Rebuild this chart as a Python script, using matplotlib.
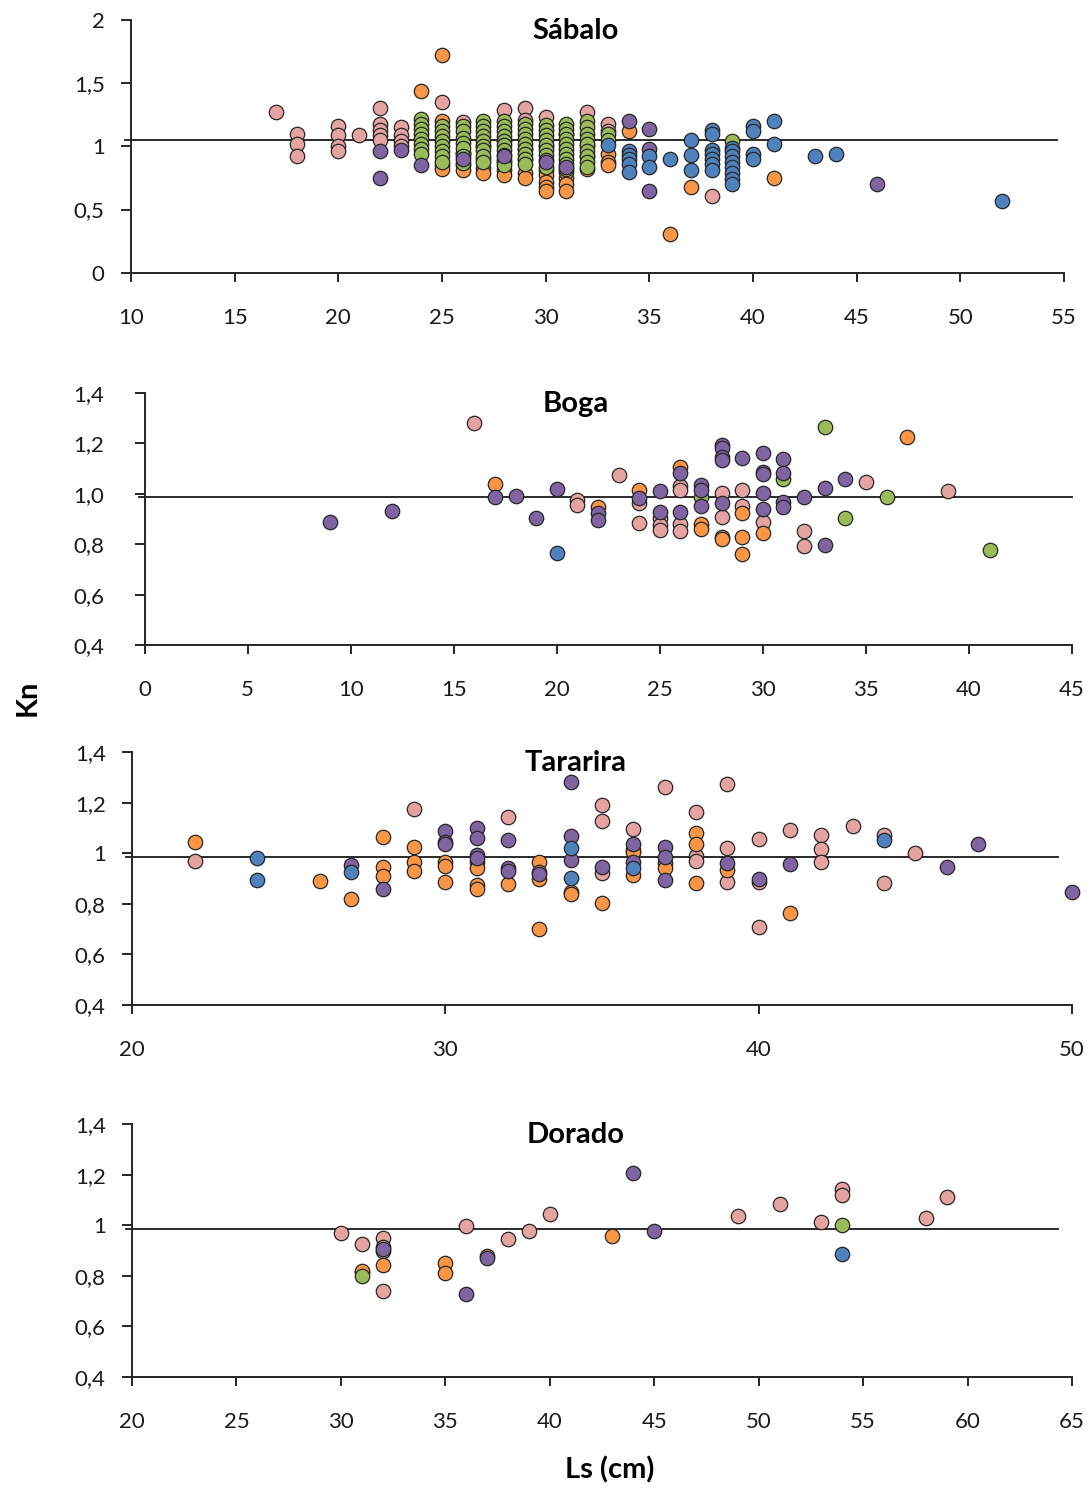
#!/usr/bin/env python3
"""
Relative condition factor (Kn) against standard length (Ls) for four species.
"""
import matplotlib
matplotlib.use("Agg")
import matplotlib.pyplot as plt
from matplotlib.ticker import FuncFormatter

plt.rcParams["font.family"] = ["Lato", "DejaVu Sans"]

# colours of the five groups
PINK = "#E5A3A1"
ORANGE = "#F79646"
GREEN = "#9BBB59"
PURPLE = "#8064A2"
BLUE = "#4F81BD"
EDGE = "#262626"

# ---- Sábalo: (Ls, Kn) per group
SABALO_PINK = [(17, 1.27), (18, 1.10), (18, 1.02), (18, 0.92), (20, 1.16), (20, 1.09),
               (20, 1.00), (20, 0.96), (21, 1.09), (22, 1.30), (22, 1.18), (22, 1.13),
               (22, 1.09), (22, 1.05), (23, 1.15), (23, 1.09), (23, 1.04), (23, 1.00),
               (25, 1.35), (25, 1.05), (26, 1.19), (26, 0.95), (27, 1.00), (28, 1.29),
               (28, 1.05), (29, 1.30), (29, 1.21), (29, 0.98), (30, 1.23), (30, 1.00),
               (31, 1.10), (31, 0.75), (32, 1.27), (32, 1.00), (33, 1.18), (33, 1.12),
               (38, 0.61)]
SABALO_ORANGE = [(24, 1.44), (25, 1.72), (25, 1.20), (25, 0.85), (25, 0.82), (26, 0.95),
                 (26, 0.85), (26, 0.81), (27, 0.90), (27, 0.83), (27, 0.79), (28, 0.88),
                 (28, 0.81), (28, 0.77), (29, 0.90), (29, 0.79), (29, 0.75), (30, 0.81),
                 (30, 0.77), (30, 0.72), (30, 0.68), (30, 0.65), (31, 0.80), (31, 0.70),
                 (31, 0.65), (32, 0.92), (32, 0.82), (33, 0.94), (33, 0.88), (33, 0.85),
                 (34, 1.12), (36, 0.31), (37, 0.68), (41, 0.75)]
SABALO_GREEN = [(24, 1.22), (24, 1.18), (24, 1.14), (24, 1.10), (24, 1.06), (24, 1.02),
                (24, 0.98), (24, 0.94), (25, 1.16), (25, 1.12), (25, 1.08), (25, 1.04),
                (25, 1.00), (25, 0.96), (25, 0.92), (25, 0.88), (26, 1.16), (26, 1.12),
                (26, 1.07), (26, 1.03), (26, 0.99), (26, 0.92), (26, 0.87), (27, 1.20),
                (27, 1.16), (27, 1.12), (27, 1.08), (27, 1.04), (27, 1.00), (27, 0.97),
                (27, 0.92), (27, 0.88), (28, 1.20), (28, 1.16), (28, 1.12), (28, 1.08),
                (28, 1.04), (28, 1.01), (28, 0.97), (28, 0.93), (28, 0.89), (28, 0.85),
                (29, 1.18), (29, 1.14), (29, 1.10), (29, 1.06), (29, 1.02), (29, 0.98),
                (29, 0.94), (29, 0.90), (29, 0.86), (30, 1.17), (30, 1.13), (30, 1.09),
                (30, 1.05), (30, 1.01), (30, 0.97), (30, 0.93), (30, 0.89), (30, 0.84),
                (31, 1.18), (31, 1.14), (31, 1.10), (31, 1.06), (31, 1.02), (31, 0.98),
                (31, 0.94), (31, 0.90), (31, 0.86), (31, 0.82), (32, 1.20), (32, 1.15),
                (32, 1.10), (32, 1.06), (32, 1.02), (32, 0.96), (32, 0.92), (32, 0.88),
                (32, 0.84), (33, 1.10), (33, 1.05), (39, 1.04)]
SABALO_PURPLE = [(22, 0.96), (22, 0.75), (23, 0.97), (24, 0.85), (26, 0.90), (28, 0.92),
                 (30, 0.88), (31, 0.84), (34, 1.20), (35, 1.14), (35, 0.98), (35, 0.65),
                 (46, 0.70)]
SABALO_BLUE = [(33, 1.01), (34, 0.96), (34, 0.93), (34, 0.90), (34, 0.86), (34, 0.80),
               (35, 0.92), (35, 0.84), (36, 0.90), (37, 1.05), (37, 0.93), (37, 0.81),
               (38, 1.13), (38, 1.10), (38, 0.97), (38, 0.94), (38, 0.90), (38, 0.86),
               (38, 0.81), (39, 0.99), (39, 0.96), (39, 0.92), (39, 0.88), (39, 0.84),
               (39, 0.79), (39, 0.74), (39, 0.70), (40, 1.16), (40, 1.12), (40, 0.94),
               (40, 0.90), (41, 1.20), (41, 1.02), (43, 0.92), (44, 0.94), (52, 0.57)]
SABALO_MEAN = 1.05

# ---- Boga
BOGA_PINK = [(16, 1.28), (21, 0.975), (21, 0.955), (23, 1.075), (24, 0.962), (24, 0.883),
             (25, 0.903), (25, 0.876), (25, 0.856), (26, 1.031), (26, 1.015), (26, 0.88),
             (26, 0.854), (28, 1.002), (28, 0.909), (29, 1.015), (29, 0.952), (30, 0.889),
             (32, 0.854), (32, 0.793), (35, 1.046), (39, 1.011)]
BOGA_ORANGE = [(17, 1.038), (22, 0.949), (24, 1.015), (26, 1.105), (27, 0.88), (27, 0.862),
               (28, 0.83), (28, 0.82), (29, 0.923), (29, 0.827), (29, 0.761), (30, 0.843),
               (37, 1.227)]
BOGA_GREEN = [(27, 0.988), (31, 1.058), (33, 1.266), (34, 0.905), (36, 0.988), (41, 0.777)]
BOGA_PURPLE = [(9, 0.889), (12, 0.932), (17, 0.988), (18, 0.992), (19, 0.905), (20, 1.019),
               (22, 0.923), (22, 0.896), (24, 0.982), (25, 1.012), (25, 0.929), (26, 1.084),
               (26, 0.929), (27, 1.035), (27, 1.015), (27, 0.952), (28, 1.194), (28, 1.18),
               (28, 1.147), (28, 1.135), (28, 0.962), (29, 1.141), (30, 1.163), (30, 1.088),
               (30, 1.08), (30, 1.002), (30, 0.939), (31, 1.137), (31, 1.084), (31, 0.969),
               (31, 0.949), (32, 0.988), (33, 1.024), (33, 0.797), (34, 1.059)]
BOGA_BLUE = [(20, 0.764)]
BOGA_MEAN = 0.986

# ---- Tararira
TARARIRA_PINK = [(22, 0.969), (29, 1.175), (31, 0.966), (32, 1.142), (35, 1.19), (35, 1.127),
                 (35, 0.921), (36, 1.094), (37, 1.26), (37, 0.96), (38, 1.162), (38, 0.989),
                 (38, 0.97), (39, 1.274), (39, 1.019), (39, 0.887), (40, 1.056), (40, 0.887),
                 (40, 0.707), (41, 1.092), (42, 1.072), (42, 1.015), (42, 0.966), (43, 1.109),
                 (44, 1.072), (44, 0.881), (45, 1.0)]
TARARIRA_ORANGE = [(22, 1.045), (26, 0.891), (27, 0.818), (28, 1.065), (28, 0.947), (28, 0.91),
                   (29, 1.026), (29, 0.966), (29, 0.93), (30, 0.966), (30, 0.95), (30, 0.887),
                   (31, 0.94), (31, 0.874), (31, 0.86), (32, 0.878), (33, 0.966), (33, 0.927),
                   (33, 0.90), (33, 0.699), (34, 0.848), (34, 0.837), (35, 0.802), (36, 1.013),
                   (36, 1.003), (36, 0.913), (37, 0.94), (38, 1.079), (38, 1.036), (38, 0.881),
                   (39, 0.934), (41, 0.762)]
TARARIRA_PURPLE = [(27, 0.953), (28, 0.857), (30, 1.089), (30, 1.045), (30, 1.035), (31, 1.098),
                   (31, 1.061), (31, 0.993), (31, 0.98), (32, 1.052), (32, 0.94), (32, 0.93),
                   (33, 0.918), (34, 1.283), (34, 1.069), (34, 0.973), (35, 0.947), (36, 1.036),
                   (36, 0.966), (37, 1.023), (37, 0.984), (37, 0.894), (39, 0.962), (40, 0.897),
                   (41, 0.956), (46, 0.944), (47, 1.035), (50, 0.845)]
TARARIRA_BLUE = [(24, 0.982), (24, 0.894), (27, 0.927), (34, 1.019), (34, 0.901), (36, 0.94),
                 (44, 1.052)]
TARARIRA_MEAN = 0.984

# ---- Dorado
DORADO_PINK = [(30, 0.968), (31, 0.926), (32, 0.951), (32, 0.915), (32, 0.90), (32, 0.74),
               (36, 0.997), (38, 0.944), (39, 0.978), (40, 1.044), (49, 1.038), (51, 1.084),
               (53, 1.014), (54, 1.143), (54, 1.119), (58, 1.027), (59, 1.11)]
DORADO_ORANGE = [(31, 0.816), (31, 0.82), (32, 0.843), (35, 0.852), (35, 0.81), (37, 0.878),
                 (43, 0.957)]
DORADO_GREEN = [(31, 0.80), (54, 1.0)]
DORADO_PURPLE = [(32, 0.905), (36, 0.727), (37, 0.872), (44, 1.205), (45, 0.978)]
DORADO_BLUE = [(54, 0.885)]
DORADO_MEAN = 0.984

# axis settings per panel
X_TICKS = {
    "Sábalo": list(range(10, 56, 5)),
    "Boga": list(range(0, 46, 5)),
    "Tararira": [20, 30, 40, 50],
    "Dorado": list(range(20, 66, 5)),
}
Y_TICKS = {
    "Sábalo": [0, 0.5, 1, 1.5, 2],
    "Boga": [0.4, 0.6, 0.8, 1.0, 1.2, 1.4],
    "Tararira": [0.4, 0.6, 0.8, 1, 1.2, 1.4],
    "Dorado": [0.4, 0.6, 0.8, 1, 1.2, 1.4],
}

W, H = 1089.0, 1488.0


def comma(fmt):
    return FuncFormatter(lambda v, pos: (fmt % v).replace(".", ","))


def panel(fig, ax, title, groups, mean, xticks, yticks, yfmt, line_end, ypad, title_y):
    for pts, colour in groups:
        xs = [p[0] for p in pts]
        ys = [p[1] for p in pts]
        ax.scatter(xs, ys, s=108, c=colour, edgecolors=EDGE, linewidths=0.9,
                   zorder=3, clip_on=False)

    x0, x1 = xticks[0], xticks[-1]
    span = x1 - x0
    ax.plot([x0 - 0.006 * span, x0 + line_end * span], [mean, mean],
            color="#1a1a1a", lw=1.3, zorder=2, clip_on=False)

    ax.set_xlim(x0, x1)
    ax.set_ylim(yticks[0], yticks[-1])
    ax.set_xticks(xticks)
    ax.set_yticks(yticks)
    ax.yaxis.set_major_formatter(comma(yfmt))

    for side in ("top", "right"):
        ax.spines[side].set_visible(False)
    for side in ("left", "bottom"):
        ax.spines[side].set_color("#262626")
        ax.spines[side].set_linewidth(1.4)
    ax.tick_params(axis="x", direction="out", length=6.5, width=1.4,
                   color="#262626", labelsize=16, pad=19, labelcolor="#1a1a1a")
    ax.tick_params(axis="y", direction="out", length=7, width=1.4,
                   color="#262626", labelsize=16, pad=ypad, labelcolor="#1a1a1a")
    # titles all sit at the same horizontal position in the figure
    fig.text(576 / W, 1 - title_y / H, title, ha="center", va="center",
             fontsize=21, fontweight="bold")


def main():
    fig = plt.figure(figsize=(10.89, 14.88), dpi=100)

    # axes boxes in pixels: left, top, right, bottom
    boxes = [(131, 20, 1064, 272.7), (144.5, 393, 1072, 645),
             (132, 752, 1072, 1005), (132, 1124, 1072, 1377)]
    axes = []
    for l, t, r, b in boxes:
        axes.append(fig.add_axes([l / W, 1 - b / H, (r - l) / W, (b - t) / H]))

    panel(fig, axes[0], "Sábalo",
          [(SABALO_PINK, PINK), (SABALO_ORANGE, ORANGE), (SABALO_GREEN, GREEN),
           (SABALO_PURPLE, PURPLE), (SABALO_BLUE, BLUE)],
          SABALO_MEAN, X_TICKS["Sábalo"], Y_TICKS["Sábalo"], "%g", 0.992, 12, 31)
    panel(fig, axes[1], "Boga",
          [(BOGA_PINK, PINK), (BOGA_ORANGE, ORANGE), (BOGA_GREEN, GREEN),
           (BOGA_PURPLE, PURPLE), (BOGA_BLUE, BLUE)],
          BOGA_MEAN, X_TICKS["Boga"], Y_TICKS["Boga"], "%.1f", 1.0, 22, 404)
    panel(fig, axes[2], "Tararira",
          [(TARARIRA_PINK, PINK), (TARARIRA_ORANGE, ORANGE),
           (TARARIRA_PURPLE, PURPLE), (TARARIRA_BLUE, BLUE)],
          TARARIRA_MEAN, X_TICKS["Tararira"], Y_TICKS["Tararira"], "%g", 0.985, 12, 763)
    panel(fig, axes[3], "Dorado",
          [(DORADO_PINK, PINK), (DORADO_ORANGE, ORANGE), (DORADO_GREEN, GREEN),
           (DORADO_PURPLE, PURPLE), (DORADO_BLUE, BLUE)],
          DORADO_MEAN, X_TICKS["Dorado"], Y_TICKS["Dorado"], "%g", 0.985, 12, 1135)

    fig.text(28 / W, 1 - 698 / H, "Kn", rotation=90, ha="center", va="center",
             fontsize=21, fontweight="bold")
    fig.text(610 / W, 1 - 1470 / H, "Ls (cm)", ha="center", va="center",
             fontsize=21, fontweight="bold")

    fig.savefig("out.png", dpi=100)


if __name__ == "__main__":
    main()
